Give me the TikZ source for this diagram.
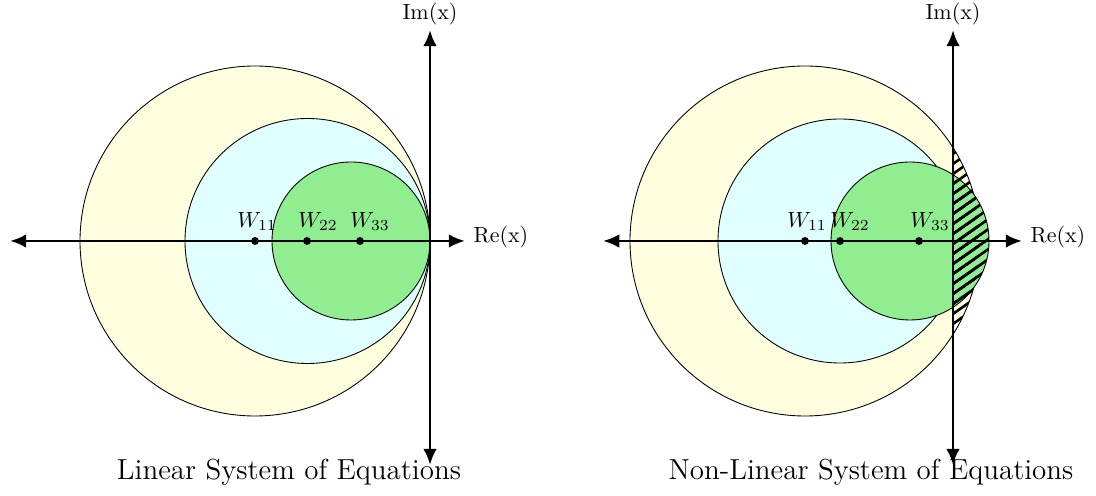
\documentclass[tikz,border=0pt]{standalone}
\usepackage{tikz}
\usetikzlibrary{positioning,arrows.meta}
\definecolor{lyellow}{RGB}{255,255,224}
\definecolor{lcyan}{RGB}{224,255,255}
\definecolor{lgreen}{RGB}{144,238,144}
\begin{document}
\begin{tikzpicture}[x=0.016cm, y=0.016cm,
    disk/.style={draw, thin},
    axis/.style={line width=1.3pt, {Latex[length=2.6mm,width=2.2mm]}-{Latex[length=2.6mm,width=2.2mm]}},
    dot/.style={circle, fill=black, inner sep=0pt, minimum size=3.6pt},
    wlabel/.style={inner sep=1pt, anchor=south},
    caption/.style={font=\fontsize{13.2}{15}\selectfont},
    hatch/.style={line width=1.2pt, line cap=round}
  ]
    \useasboundingbox (0,0) rectangle (1096,496);

    % linear system
    \filldraw[disk, fill=lyellow] (255,255) circle[radius=175];
    \filldraw[disk, fill=lcyan]   (307.5,255) circle[radius=122.5];
    \filldraw[disk, fill=lgreen]  (351,255) circle[radius=79];

    \coordinate (lw) at (10,255);  \coordinate (le) at (465,255);
    \coordinate (ls) at (430,31);  \coordinate (ln) at (430,466);
    \draw[axis] (lw) -- (le);
    \draw[axis] (ls) -- (ln);
    \node[anchor=west, inner sep=1pt] (lre) at (471,259) {Re(x)};
    \node[inner sep=1pt] (lim) at (430,482) {Im(x)};

    \node[dot] (lw11) at (255,255) {};
    \node[dot] (lw22) at (307,255) {};
    \node[dot] (lw33) at (360,255) {};
    \node[wlabel] at (257,263) {$W_{11}$};
    \node[wlabel] at (318,263) {$W_{22}$};
    \node[wlabel] at (370,263) {$W_{33}$};

    \node[caption] (lcap) at (289,24) {Linear System of Equations};

    % non-linear system
    \filldraw[disk, fill=lyellow] (805,255) circle[radius=175];
    \filldraw[disk, fill=lcyan]   (840,255) circle[radius=122];
    \filldraw[disk, fill=lgreen]  (910,255) circle[radius=79];

    \begin{scope}
      \clip (953,0) rectangle (1096,496);
      \begin{scope}
        \clip (805,255) circle[radius=175];
        \foreach \c in {90,100,...,400}
          \draw[hatch] (950,\c) -- (1000,\c+35);
      \end{scope}
      \begin{scope}
        \clip (910,255) circle[radius=79];
        \foreach \c in {90,100,...,400}
          \draw[hatch] (950,\c) -- (1000,\c+35);
      \end{scope}
    \end{scope}

    \coordinate (rw) at (603,255); \coordinate (re) at (1022,255);
    \coordinate (rs) at (953,31);  \coordinate (rn) at (953,466);
    \draw[axis] (rw) -- (re);
    \draw[axis] (rs) -- (rn);
    \node[anchor=west, inner sep=1pt] (rre) at (1028,259) {Re(x)};
    \node[inner sep=1pt] (rim) at (953,482) {Im(x)};

    \node[dot] (rw11) at (805,255) {};
    \node[dot] (rw22) at (840,255) {};
    \node[dot] (rw33) at (919,255) {};
    \node[wlabel] at (807,263) {$W_{11}$};
    \node[wlabel] at (850,263) {$W_{22}$};
    \node[wlabel] at (930,263) {$W_{33}$};

    \node[caption] (rcap) at (871,24) {Non-Linear System of Equations};
\end{tikzpicture}
\end{document}
